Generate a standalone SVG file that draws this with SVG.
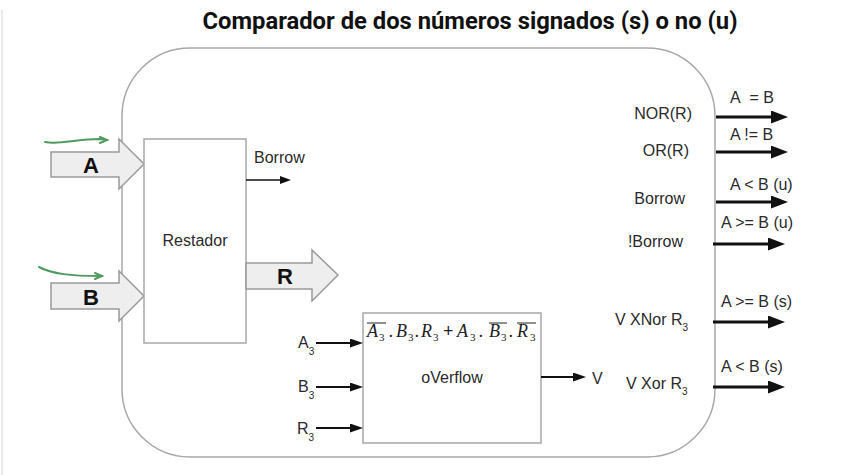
<svg xmlns="http://www.w3.org/2000/svg" width="852" height="475" viewBox="0 0 852 475">
<style>
.lbl{font-family:"Liberation Sans",Arial,sans-serif;font-size:16px;fill:#2a2a2a}
.big{font-family:"Liberation Sans",Arial,sans-serif;font-size:22px;font-weight:bold;fill:#111}
.sub{font-size:10px}
.f{font-family:"Liberation Serif","Times New Roman",serif;font-size:18px;font-style:italic;fill:#222}
.fs{font-family:"Liberation Serif","Times New Roman",serif;font-size:11px;fill:#222}
.box{fill:#fff;stroke:#a8a8a8;stroke-width:1.5}
.blk{fill:#eeeeee;stroke:#9a9a9a;stroke-width:1.5}
.thick{stroke:#111;stroke-width:3;fill:none}
.thin{stroke:#111;stroke-width:2;fill:none}
.hair{stroke:#111;stroke-width:1.5;fill:none}
.green{stroke:#4f9a5e;stroke-width:2;fill:none;stroke-linecap:round}
</style>
<defs>
<marker id="hb" markerUnits="userSpaceOnUse" markerWidth="17" markerHeight="13" refX="0" refY="6.5" orient="auto"><path d="M0,0 L17,6.5 L0,13 z" fill="#111"/></marker>
<marker id="hs" markerUnits="userSpaceOnUse" markerWidth="13" markerHeight="9" refX="0" refY="4.5" orient="auto"><path d="M0,0 L13,4.5 L0,9 z" fill="#111"/></marker>
<marker id="ht" markerUnits="userSpaceOnUse" markerWidth="11" markerHeight="8" refX="0" refY="4" orient="auto"><path d="M0,0 L11,4 L0,8 z" fill="#111"/></marker>
</defs>
<rect width="852" height="475" fill="#fff"/>
<line x1="2" y1="10" x2="2" y2="475" stroke="#e0e0e0" stroke-width="1.5"/>
<text x="470" y="29" text-anchor="middle" font-family="Roboto,'Liberation Sans',sans-serif" font-size="23" font-weight="bold" fill="#111" textLength="535" lengthAdjust="spacingAndGlyphs">Comparador de dos números signados (s) o no (u)</text>

<g id="comparador">
<rect x="122" y="48" width="593" height="409" rx="68" ry="68" fill="none" stroke="#a8a8a8" stroke-width="1.5"/>
</g>

<g id="inputA">
<polygon class="blk" points="51,152 119,152 119,139 144,164 119,189 119,177 51,177"/>
<text class="big" x="91" y="173" text-anchor="middle">A</text>
</g>
<g id="inputB">
<polygon class="blk" points="51,283 119,283 119,271 144,296 119,321 119,309 51,309"/>
<text class="big" x="91" y="305" text-anchor="middle">B</text>
</g>
<g id="restador">
<rect class="box" x="144" y="139" width="102" height="204"/>
<text class="lbl" x="195" y="246" text-anchor="middle">Restador</text>
</g>
<g id="outputR">
<polygon class="blk" points="246,263 312,263 312,250 338,275 312,301 312,289 246,289"/>
<text class="big" x="285" y="284" text-anchor="middle">R</text>
</g>
<g id="overflow">
<rect class="box" x="363" y="313" width="178" height="130"/>
<text class="f" x="367" y="337">A</text><text class="fs" x="379" y="341">3</text>
<text class="f" x="389" y="337">.</text>
<text class="f" x="396" y="337">B</text><text class="fs" x="408" y="341">3</text>
<text class="f" x="415" y="337">.</text>
<text class="f" x="421" y="337">R</text><text class="fs" x="433" y="341">3</text>
<text class="f" x="443" y="337" font-style="normal" font-weight="bold">+</text>
<text class="f" x="457" y="337">A</text><text class="fs" x="470" y="341">3</text>
<text class="f" x="479" y="337">.</text>
<text class="f" x="489" y="337">B</text><text class="fs" x="501" y="341">3</text>
<text class="f" x="509" y="337">.</text>
<text class="f" x="517" y="337">R</text><text class="fs" x="530" y="341">3</text>
<line x1="367" y1="323" x2="386" y2="323" stroke="#222" stroke-width="1"/>
<line x1="489" y1="323" x2="507" y2="323" stroke="#222" stroke-width="1"/>
<line x1="517" y1="323" x2="536" y2="323" stroke="#222" stroke-width="1"/>
<text class="lbl" x="452" y="383" text-anchor="middle">oVerflow</text>
</g>

<g id="labels">
<text class="lbl" x="254" y="163">Borrow</text>
<text class="lbl" x="298" y="348">A<tspan class="sub" dy="7">3</tspan></text>
<text class="lbl" x="298" y="392">B<tspan class="sub" dy="7">3</tspan></text>
<text class="lbl" x="297" y="434">R<tspan class="sub" dy="7">3</tspan></text>
<text class="lbl" x="592" y="384">V</text>
<text class="lbl" x="692" y="119" text-anchor="end">NOR(R)</text>
<text class="lbl" x="689" y="156" text-anchor="end">OR(R)</text>
<text class="lbl" x="685" y="204" text-anchor="end">Borrow</text>
<text class="lbl" x="683" y="247" text-anchor="end">!Borrow</text>
<text class="lbl" x="615" y="325">V XNor R<tspan class="sub" dy="6">3</tspan></text>
<text class="lbl" x="626" y="389">V Xor R<tspan class="sub" dy="6">3</tspan></text>
<text class="lbl" x="730" y="103">A&#160; = B</text>
<text class="lbl" x="730" y="140">A != B</text>
<text class="lbl" x="730" y="190">A &lt; B (u)</text>
<text class="lbl" x="721" y="228">A &gt;= B (u)</text>
<text class="lbl" x="721" y="307">A &gt;= B (s)</text>
<text class="lbl" x="721" y="372">A &lt; B (s)</text>
</g>

<g id="connectors">
<line class="hair" x1="246" y1="180" x2="280" y2="180" marker-end="url(#ht)"/>
<line class="thin" x1="316" y1="343" x2="350" y2="343" marker-end="url(#hs)"/>
<line class="thin" x1="316" y1="387" x2="350" y2="387" marker-end="url(#hs)"/>
<line class="thin" x1="316" y1="428" x2="350" y2="428" marker-end="url(#hs)"/>
<line class="thin" x1="541" y1="377" x2="573" y2="377" marker-end="url(#hs)"/>
<line class="thick" x1="716" y1="117" x2="771" y2="117" marker-end="url(#hb)"/>
<line class="thick" x1="716" y1="152" x2="771" y2="152" marker-end="url(#hb)"/>
<line class="thick" x1="716" y1="202" x2="771" y2="202" marker-end="url(#hb)"/>
<line class="thick" x1="713" y1="244" x2="768" y2="244" marker-end="url(#hb)"/>
<line class="thick" x1="713" y1="322" x2="768" y2="322" marker-end="url(#hb)"/>
<line class="thick" x1="713" y1="387" x2="768" y2="387" marker-end="url(#hb)"/>
<path class="green" d="M45,142 C60,145 75,139 100,139 L107,140"/>
<path class="green" d="M100,137 L107,140 L100,143"/>
<path class="green" d="M39,267 C52,274 70,276 102,276"/>
<path class="green" d="M95,273 L102,276 L95,279"/>
</g>
</svg>
